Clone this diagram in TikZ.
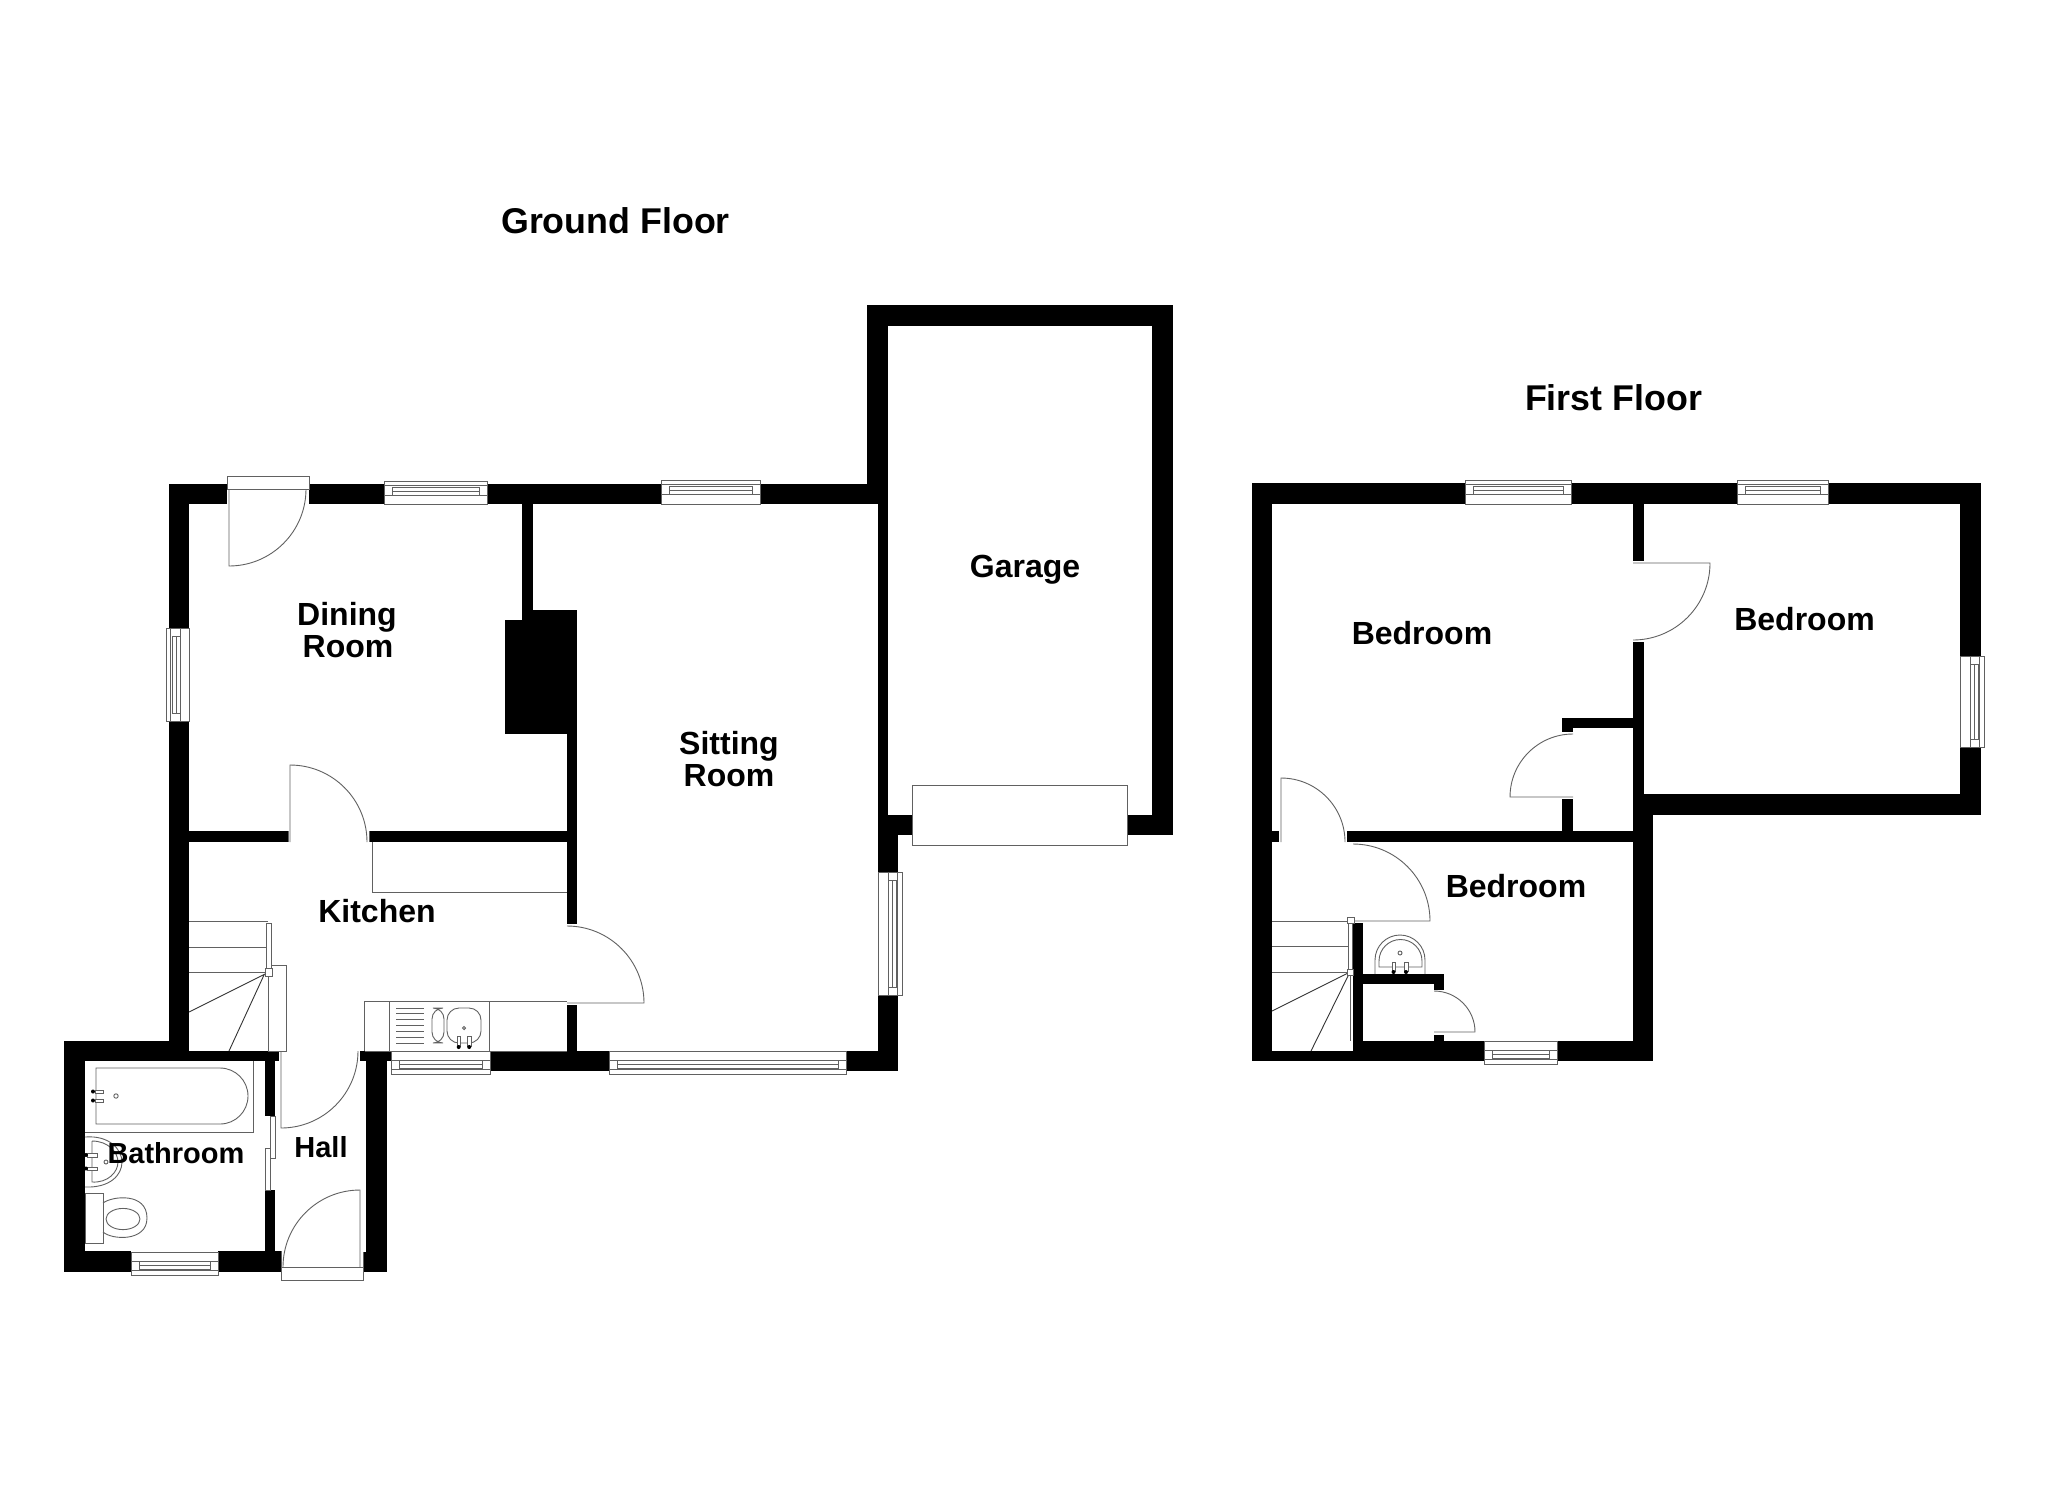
\documentclass[tikz,border=0pt]{standalone}
\usepackage{fontspec}
\setmainfont{Liberation Sans}
\newcommand{\WL}[4]{\fill[wall] (#1,#2) rectangle (#3,#4);}
% horizontal window: x1 x2 yout yin sign
\newcommand{\HW}[5]{%
  \fill[white] (#1,#3) rectangle (#2,#4);
  \draw[fine] (#1,#3) rectangle (#2,#4);
  \draw[fine] (#1,{#3+#5*4.5}) -- (#2,{#3+#5*4.5});
  \draw[fine] (#1,{#3+#5*14}) -- (#2,{#3+#5*14});
  \draw[fine] ({#1+8},{#3+#5*6}) rectangle ({#2-8},{#3+#5*14});
  \draw[fine] ({#1+8},{#3+#5*10}) -- ({#2-8},{#3+#5*10});}
% vertical window: y1 y2 xout xin sign
\newcommand{\VW}[5]{%
  \fill[white] (#3,#1) rectangle (#4,#2);
  \draw[fine] (#3,#1) rectangle (#4,#2);
  \draw[fine] ({#3+#5*4.5},#1) -- ({#3+#5*4.5},#2);
  \draw[fine] ({#3+#5*14},#1) -- ({#3+#5*14},#2);
  \draw[fine] ({#3+#5*6},{#1+8}) rectangle ({#3+#5*14},{#2-8});
  \draw[fine] ({#3+#5*10},{#1+8}) -- ({#3+#5*10},{#2-8});}
% door: hinge x y, start angle, end angle, radius in px
\newcommand{\DR}[5]{\draw[fine] (#1,#2) -- ++(#3:#5*0.5pt) arc[start angle=#3,end angle=#4,radius=#5*0.5pt];}
\tikzset{
  wall/.style={fill=black},
  fine/.style={draw=black!62,line width=0.45pt},
  dark/.style={draw=black!80,line width=0.45pt},
  title/.style={font=\bfseries\fontsize{17.9}{20}\selectfont,inner sep=0,anchor=base},
  room/.style={font=\bfseries\fontsize{16}{18}\selectfont,inner sep=0,anchor=base},
  roomsm/.style={font=\bfseries\fontsize{14.5}{18}\selectfont,inner sep=0,anchor=base}
}
\begin{document}
\begin{tikzpicture}[x=0.5pt,y=-0.5pt]
\useasboundingbox (0,0) rectangle (2048,1489);
\fill[white] (0,0) rectangle (2048,1489);
%% GROUND FLOOR walls
\WL{169}{484}{227}{504}
\WL{309}{484}{384}{504}
\WL{487}{484}{662}{504}
\WL{760}{484}{888}{504}
\WL{169}{484}{189}{628}
\WL{169}{721}{189}{1061}
\WL{64}{1041}{189}{1061}
\WL{189}{1051}{279}{1061}
\WL{64}{1041}{85}{1272}
\WL{64}{1251}{131}{1272}
\WL{218}{1251}{281}{1272}
\WL{265}{1051}{275}{1116}
\WL{265}{1190}{275}{1251}
\WL{359.5}{1051}{391}{1061}
\WL{366}{1051}{387}{1272}
\WL{363}{1252}{387}{1272}
\WL{490}{1051}{609}{1071}
\WL{846}{1051}{898}{1071}
\WL{878}{995}{898}{1071}
\WL{878}{835}{898}{872}
\WL{878}{484}{888}{835}
\WL{867}{305}{888}{490}
\WL{867}{305}{1173}{326}
\WL{1152}{305}{1173}{835}
\WL{1127}{815}{1173}{835}
\WL{878}{815}{912}{835}
% dining / sitting partition and chimney
\WL{522}{504}{533}{620}
\WL{505}{620}{577}{734}
\WL{522}{610}{577}{734}
\WL{567}{610}{577}{924}
\WL{567}{1005}{577}{1051}
\WL{189}{831}{288}{842}
\WL{369}{831}{577}{842}
%% ground floor fittings
\HW{661.5}{760}{480}{504}{1}
\HW{384}{487}{481}{504}{1}
\HW{391}{490}{1074}{1051}{-1}
\HW{609}{846}{1074}{1051}{-1}
\HW{131}{218}{1275}{1252}{-1}
\VW{628}{721}{166}{189}{1}
\VW{872}{995}{902}{878}{-1}
% dining front door
\draw[fine,fill=white] (227,476) rectangle (309,489);
\DR{229}{489}{-90}{0}{77}
\DR{290}{842}{90}{0}{77}
\DR{567}{1003}{0}{90}{77}
\DR{281}{1051}{-90}{0}{77}
\DR{360}{1267}{90}{180}{77}
\draw[fine] (288,831) -- (288,842) (369,831) -- (369,842);
\draw[fine] (281,1251) -- (281,1267) (363,1252) -- (363,1267);
\draw[fine,fill=white] (281,1267) rectangle (363,1280);
% garage door
\draw[fine,fill=white] (912,785) rectangle (1127,845);
% cupboard
\draw[fine] (372,842) -- (372,892) -- (567,892);
% sink unit
\draw[fine] (364.5,1051) -- (364.5,1001) -- (567,1001);
\draw[fine] (364.5,1051) -- (567,1051);
\draw[fine] (389,1001) -- (389,1051) (489,1001) -- (489,1051);
\foreach \yy in {1008,1013.8,1019.7,1025.5,1031.3,1037.2,1043}{\draw[fine] (396,\yy) -- (424,\yy);}
\draw[fine,rounded corners=5.5pt] (432,1008) rectangle (444,1043);
\draw[fine,rounded corners=6pt] (447,1008) rectangle (481,1043);
\draw[fine] (464,1028) circle[radius=0.8pt];
\draw[fine,fill=white] (457,1036) rectangle (460.5,1046);
\draw[fine,fill=white] (467.5,1036) rectangle (471,1046);
\fill (458.7,1047) circle[radius=1pt] (469.2,1047) circle[radius=1pt];
% stairs
\draw[fine] (189,921) -- (268,921) (189,947) -- (266,947) (189,972) -- (265,972);
\draw[dark] (265,974) -- (189,1012) (264,975) -- (229,1051);
\draw[fine] (266,923) rectangle (271,968);
\draw[fine] (268,976) -- (268,1051) -- (286,1051) -- (286,965) -- (272,965);
\draw[fine,fill=white] (265,968) rectangle (272,976);
% sliding doors
\draw[fine] (270,1116) rectangle (275,1158);
\draw[fine] (265,1148) rectangle (270,1190);
% bath
\draw[fine] (85,1132) -- (253,1132) -- (253,1061);
\draw[fine] (220,1068) -- (96,1068) -- (96,1124) -- (220,1124) arc[start angle=-90,end angle=90,radius=14pt];
\draw[fine,fill=white] (95,1090) rectangle (103,1093.5);
\draw[fine,fill=white] (95,1099) rectangle (103,1102.5);
\fill (93,1091.5) circle[radius=1pt] (93,1100.5) circle[radius=1pt];
\draw[fine] (116,1096) circle[radius=1.1pt];
% basin
\draw[fine] (85,1137) .. controls (110,1135) and (122,1150) .. (122,1162) .. controls (122,1175) and (110,1188) .. (85,1187);
\draw[fine] (92,1141) -- (92,1182) .. controls (108,1183) and (118,1172) .. (118,1162) .. controls (118,1152) and (108,1141) .. (92,1141);
\draw[fine,fill=white] (87,1153) rectangle (97,1157);
\draw[fine,fill=white] (87,1167) rectangle (97,1170);
\fill (86,1155) circle[radius=1pt] (86,1168.5) circle[radius=1pt];
\draw[fine] (106,1162) circle[radius=1pt];
% wc
\draw[fine] (85,1193) rectangle (103,1243);
\draw[fine] (103,1203) .. controls (112,1196) and (147,1192) .. (147,1218) .. controls (147,1242) and (112,1240) .. (103,1232);
\draw[fine] (123,1219) ellipse[x radius=8.5pt,y radius=5.3pt];
%% FIRST FLOOR walls
\WL{1252}{483}{1272}{1061}
\WL{1252}{483}{1465}{504}
\WL{1571}{483}{1737}{504}
\WL{1828}{483}{1981}{504}
\WL{1960}{483}{1981}{656}
\WL{1960}{747}{1981}{815}
\WL{1633}{794}{1981}{815}
\WL{1633}{504}{1644}{561}
\WL{1633}{642}{1644}{842}
\WL{1633}{794}{1653}{1061}
\WL{1272}{831}{1279}{842}
\WL{1347}{831}{1644}{842}
\WL{1562}{718}{1633}{728}
\WL{1562}{718}{1573}{732}
\WL{1562}{799}{1573}{832}
\WL{1353}{923}{1363}{1061}
\WL{1363}{974}{1444}{984}
\WL{1434}{974}{1444}{990}
\WL{1434}{1035}{1444}{1041}
\WL{1272}{1051}{1484}{1061}
\WL{1353}{1041}{1484}{1061}
\WL{1557}{1041}{1653}{1061}
%% first floor fittings
\HW{1465}{1571}{480}{504}{1}
\HW{1737}{1828}{480}{504}{1}
\HW{1484}{1557}{1064}{1041}{-1}
\VW{656}{747}{1984}{1960}{-1}
\DR{1633}{563}{0}{-90}{77}
\DR{1573}{797}{180}{90}{63}
\DR{1281}{842}{90}{0}{64}
\DR{1353}{921}{0}{90}{77}
\DR{1434}{1032}{0}{90}{41}
\draw[fine] (1272,921) -- (1353,921) (1272,946) -- (1348,946) (1272,972) -- (1348,972);
\draw[dark] (1348,973) -- (1272,1011) (1349,974) -- (1311,1051);
\draw[fine] (1348,923) rectangle (1352,970);
\draw[fine,fill=white] (1347,917) rectangle (1354,923);
\draw[fine,fill=white] (1347,969) rectangle (1353,975);
\draw[fine] (1350,975) -- (1350,1041);
% first floor basin
\draw[fine] (1375,974) -- (1375,960) arc[start angle=180,end angle=0,radius=12.5pt] -- (1425,974);
\draw[fine] (1379,967) -- (1379,961) arc[start angle=180,end angle=0,radius=10.75pt] -- (1422,967) -- cycle;
\draw[fine] (1400,953) circle[radius=1pt];
\draw[fine,fill=white] (1392,962) rectangle (1395,971);
\draw[fine,fill=white] (1404,962) rectangle (1408,971);
\fill (1393.5,972) circle[radius=1pt] (1406,972) circle[radius=1pt];
%% TEXT
\node[title] (gf) at (615.5,233) {Ground Floor};
\node[title] (ff) at (1613.5,410) {First Floor};
\node[room] (din) at (347,625) {Dining};
\node[room] (dinb) at (348,657) {Room};
\node[room] (sit) at (729,754) {Sitting};
\node[room] (sitb) at (729,786) {Room};
\node[room] (gar) at (1025,577) {Garage};
\node[room] (kit) at (377,922) {Kitchen};
\node[roomsm] (bath) at (176,1163) {Bathroom};
\node[roomsm] (hall) at (321,1157) {Hall};
\node[room] (bd1) at (1422,644) {Bedroom};
\node[room] (bd2) at (1804.5,630) {Bedroom};
\node[room] (bd3) at (1516,897) {Bedroom};
\end{tikzpicture}
\end{document}
